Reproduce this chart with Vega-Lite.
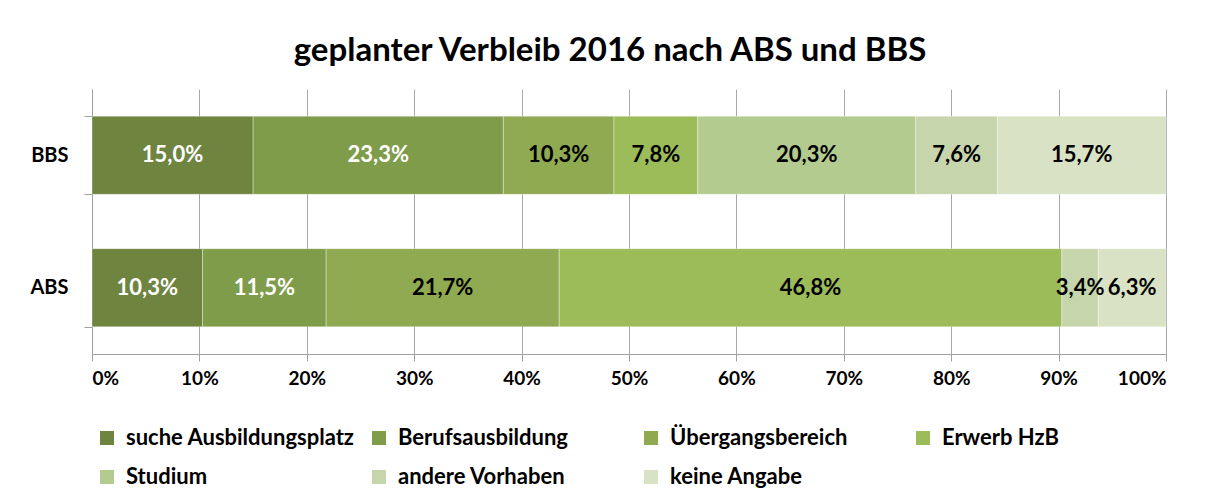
{
  "$schema": "https://vega.github.io/schema/vega-lite/v6.json",
  "width": 1074,
  "height": 265,
  "autosize": {"type": "none"},
  "padding": {"left": 92, "top": 89, "right": 40, "bottom": 147},
  "background": "white",
  "config": {
    "font": "Lato",
    "view": {"stroke": null},
    "locale": {"number": {"decimal": ",", "thousands": ".", "grouping": [3], "currency": ["", " €"]}}
  },
  "title": {
    "text": "geplanter Verbleib 2016 nach ABS und BBS",
    "fontSize": 33,
    "fontWeight": "bold",
    "font": "Lato",
    "color": "#000000",
    "anchor": "middle",
    "dx": -19,
    "offset": 11
  },
  "data": {
    "values": [
      {"g": "BBS", "cat": "suche Ausbildungsplatz", "k": 1, "v": 0.150},
      {"g": "BBS", "cat": "Berufsausbildung", "k": 2, "v": 0.233},
      {"g": "BBS", "cat": "Übergangsbereich", "k": 3, "v": 0.103},
      {"g": "BBS", "cat": "Erwerb HzB", "k": 4, "v": 0.078},
      {"g": "BBS", "cat": "Studium", "k": 5, "v": 0.203},
      {"g": "BBS", "cat": "andere Vorhaben", "k": 6, "v": 0.076},
      {"g": "BBS", "cat": "keine Angabe", "k": 7, "v": 0.157},
      {"g": "ABS", "cat": "suche Ausbildungsplatz", "k": 1, "v": 0.103},
      {"g": "ABS", "cat": "Berufsausbildung", "k": 2, "v": 0.115},
      {"g": "ABS", "cat": "Übergangsbereich", "k": 3, "v": 0.217},
      {"g": "ABS", "cat": "Erwerb HzB", "k": 4, "v": 0.468},
      {"g": "ABS", "cat": "andere Vorhaben", "k": 6, "v": 0.034},
      {"g": "ABS", "cat": "keine Angabe", "k": 7, "v": 0.063}
    ]
  },
  "transform": [
    {"stack": "v", "groupby": ["g"], "sort": [{"field": "k", "order": "ascending"}], "as": ["v0", "v1"]},
    {"calculate": "(datum.v0 + datum.v1) / 2", "as": "mid"}
  ],
  "encoding": {
    "y": {
      "field": "g",
      "type": "nominal",
      "sort": ["BBS", "ABS"],
      "scale": {"paddingInner": 0.41, "paddingOuter": 0.205},
      "axis": {
        "title": null,
        "labelFontSize": 20,
        "labelFontWeight": "bold",
        "labelColor": "#000000",
        "labelPadding": 16,
        "domainColor": "#A0A0A0",
        "tickColor": "#A0A0A0",
        "tickBand": "extent",
        "tickSize": 8
      }
    }
  },
  "layer": [
    {
      "mark": {"type": "bar", "stroke": "#ffffff", "strokeOpacity": 0.35, "strokeWidth": 1},
      "encoding": {
        "x": {
          "field": "v0",
          "type": "quantitative",
          "scale": {"domain": [0, 1], "nice": false},
          "axis": {
            "title": null,
            "format": ".0%",
            "values": [0, 0.1, 0.2, 0.3, 0.4, 0.5, 0.6, 0.7, 0.8, 0.9, 1],
            "labelOverlap": false,
            "labelFontSize": 19,
            "labelFontWeight": "bold",
            "labelColor": "#000000",
            "labelPadding": 8,
            "domainColor": "#A0A0A0",
            "tickColor": "#A0A0A0",
            "tickSize": 7,
            "grid": true,
            "gridColor": "#A8A8A8",
            "gridWidth": 1
          }
        },
        "x2": {"field": "v1"},
        "color": {
          "field": "cat",
          "type": "nominal",
          "scale": {
            "domain": ["suche Ausbildungsplatz", "Berufsausbildung", "Übergangsbereich", "Erwerb HzB", "Studium", "andere Vorhaben", "keine Angabe"],
            "range": ["#6E843F", "#7F9C4A", "#8FAA50", "#9CBB59", "#B3CB8E", "#C6D5AC", "#D9E2C5"]
          },
          "legend": {
            "title": null,
            "orient": "none",
            "legendX": 4,
            "legendY": 338,
            "direction": "horizontal",
            "columns": 4,
            "gridAlign": "all",
            "symbolType": "square",
            "symbolSize": 196,
            "symbolStrokeWidth": 0,
            "labelFontSize": 22,
            "labelFontWeight": "bold",
            "labelColor": "#000000",
            "labelOffset": 8,
            "columnPadding": 13,
            "rowPadding": 17,
            "labelLimit": 400
          }
        }
      }
    },
    {
      "mark": {"type": "text", "fontSize": 22, "fontWeight": "bold", "baseline": "middle", "align": "center"},
      "encoding": {
        "x": {"field": "mid", "type": "quantitative"},
        "text": {"field": "v", "type": "quantitative", "format": ".1%"},
        "color": {
          "condition": {"test": "datum.k <= 2", "value": "#ffffff"},
          "value": "#000000"
        }
      }
    }
  ]
}
